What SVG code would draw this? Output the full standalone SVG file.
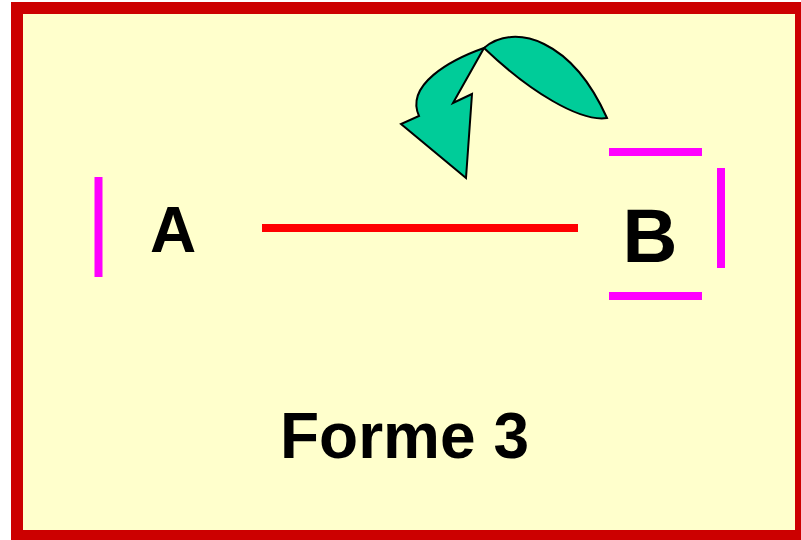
<svg xmlns="http://www.w3.org/2000/svg" width="801" height="540" viewBox="0 0 801 540">
<style>
.lbl{font-family:"Liberation Sans",Arial,sans-serif;font-weight:bold;fill:#000}
.mag{stroke:#FF00FF;stroke-width:8;fill:none}
.arr{fill:#00CC99;stroke:#000;stroke-width:2;stroke-linejoin:miter}
</style>
<rect x="17" y="8" width="784" height="528" fill="#FFFFCC" stroke="#CC0000" stroke-width="12"/>
<g id="nodeA">
<line class="mag" x1="98.5" y1="177" x2="98.5" y2="277"/>
<text class="lbl" x="150" y="252" font-size="64">A</text>
</g>
<g id="nodeB">
<line class="mag" x1="609" y1="152" x2="702" y2="152"/>
<line class="mag" x1="609" y1="296" x2="702" y2="296"/>
<line class="mag" x1="721" y1="168" x2="721" y2="268"/>
<text class="lbl" x="622.5" y="262" font-size="76">B</text>
</g>
<g id="connectors">
<line x1="262" y1="228" x2="578" y2="228" stroke="#FF0000" stroke-width="8"/>
<g id="curvedArrow">
<path class="arr" d="M484,48 C515,22 572,40 607,118 C580,122 530,92 484,48 Z"/>
<path class="arr" d="M484,48 C450,60 405,85 419,116 L401,124 L466,178 L472,94 L453,103 Z"/>
</g>
</g>
<g id="title">
<text class="lbl" x="404.5" y="458" font-size="64" text-anchor="middle">Forme 3</text>
</g>
</svg>
